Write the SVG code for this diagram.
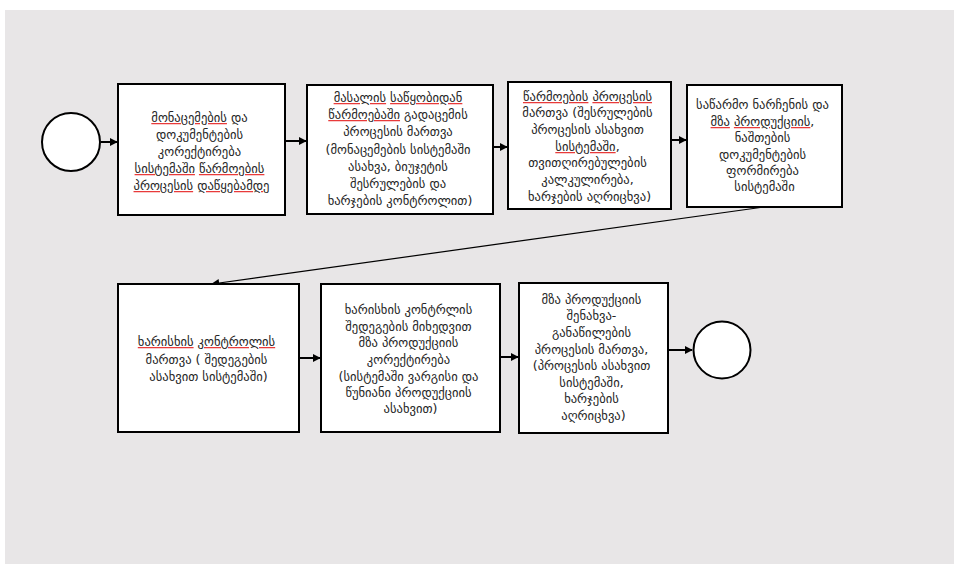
<svg xmlns="http://www.w3.org/2000/svg" width="954" height="564" viewBox="0 0 954 564">
  <defs>
    <marker id="arrow" viewBox="0 0 10 10" refX="9" refY="5" markerWidth="8" markerHeight="8" markerUnits="userSpaceOnUse" orient="auto">
      <path d="M0,0 L10,5 L0,10 z" fill="#000"/>
    </marker>
  </defs>
  <style>
    .box { fill: #fff; stroke: #000; stroke-width: 2; }
    .ev { fill: #fff; stroke: #000; stroke-width: 2; }
    .lbl { font-family: "DejaVu Sans", sans-serif; font-size: 12.6px; fill: #262626; text-anchor: middle; }
    /* spell-check style underline: the decoration takes the outer fill, the glyphs the inner one */
    .sp { fill: #e83a3a; text-decoration-line: underline; text-decoration-style: wavy; text-decoration-thickness: 1px; }
    .sp > tspan { fill: #262626; }
    .conn { fill: none; stroke: #000; stroke-width: 2; marker-end: url(#arrow); }
    .conn-thin { fill: none; stroke: #000; stroke-width: 1.2; marker-end: url(#arrow); }
  </style>

  <!-- canvas -->
  <rect x="5" y="10" width="949" height="554" fill="#e8e6e7"/>

  <!-- connectors -->
  <g id="connectors">
    <line class="conn" x1="101" y1="142" x2="117" y2="142"/>
    <line class="conn" x1="285" y1="141" x2="306" y2="141"/>
    <line class="conn" x1="493" y1="147" x2="507" y2="147"/>
    <line class="conn" x1="671" y1="140" x2="686" y2="140"/>
    <line class="conn-thin" x1="764" y1="207" x2="212" y2="284"/>
    <line class="conn" x1="299" y1="358" x2="320" y2="358"/>
    <line class="conn" x1="500" y1="357" x2="518" y2="357"/>
    <line class="conn" x1="668" y1="350" x2="692" y2="350"/>
  </g>

  <!-- start event -->
  <g id="start">
    <circle class="ev" cx="71" cy="142" r="29"/>
  </g>

  <!-- step 1 -->
  <g id="step1">
    <rect class="box" x="118" y="84" width="167" height="131"/>
    <text class="lbl">
      <tspan x="201.5" y="122"><tspan class="sp"><tspan>მონაცემების</tspan></tspan> და</tspan>
      <tspan x="201.5" y="139">დოკუმენტების</tspan>
      <tspan x="201.5" y="156">კორექტირება</tspan>
      <tspan x="201.5" y="173"><tspan class="sp"><tspan>სისტემაში</tspan></tspan> <tspan class="sp"><tspan>წარმოების</tspan></tspan></tspan>
      <tspan x="201.5" y="190"><tspan class="sp"><tspan>პროცესის</tspan></tspan> <tspan class="sp"><tspan>დაწყებამდე</tspan></tspan></tspan>
    </text>
  </g>

  <!-- step 2 -->
  <g id="step2">
    <rect class="box" x="307" y="85" width="186" height="129"/>
    <text class="lbl">
      <tspan x="400" y="102"><tspan class="sp"><tspan>მასალის</tspan></tspan> <tspan class="sp"><tspan>საწყობიდან</tspan></tspan></tspan>
      <tspan x="400" y="119"><tspan class="sp"><tspan>წარმოებაში</tspan></tspan> გადაცემის</tspan>
      <tspan x="400" y="136">პროცესის მართვა</tspan>
      <tspan x="400" y="154">(მონაცემების სისტემაში</tspan>
      <tspan x="400" y="171">ასახვა, ბიუჯეტის</tspan>
      <tspan x="400" y="188">შესრულების და</tspan>
      <tspan x="400" y="205">ხარჯების კონტროლით)</tspan>
    </text>
  </g>

  <!-- step 3 -->
  <g id="step3">
    <rect class="box" x="508" y="82" width="163" height="127"/>
    <text class="lbl">
      <tspan x="589.5" y="101"><tspan class="sp"><tspan>წარმოების</tspan></tspan> <tspan class="sp"><tspan>პროცესის</tspan></tspan></tspan>
      <tspan x="589.5" y="117">მართვა (შესრულების</tspan>
      <tspan x="589.5" y="134">პროცესის  ასახვით</tspan>
      <tspan x="589.5" y="151"><tspan class="sp"><tspan>სისტემაში</tspan></tspan>,</tspan>
      <tspan x="589.5" y="167">თვითღირებულების</tspan>
      <tspan x="589.5" y="184">კალკულირება,</tspan>
      <tspan x="589.5" y="201">ხარჯების აღრიცხვა)</tspan>
    </text>
  </g>

  <!-- step 4 -->
  <g id="step4">
    <rect class="box" x="687" y="85" width="155" height="122"/>
    <text class="lbl">
      <tspan x="764.5" y="109">საწარმო ნარჩენის და</tspan>
      <tspan x="764.5" y="126"><tspan class="sp"><tspan>მზა</tspan></tspan> <tspan class="sp"><tspan>პროდუქციის</tspan></tspan>,</tspan>
      <tspan x="764.5" y="142">ნაშთების</tspan>
      <tspan x="764.5" y="159">დოკუმენტების</tspan>
      <tspan x="764.5" y="175">ფორმირება</tspan>
      <tspan x="764.5" y="191">სისტემაში</tspan>
    </text>
  </g>

  <!-- step 5 -->
  <g id="step5">
    <rect class="box" x="118" y="284" width="181" height="148"/>
    <text class="lbl">
      <tspan x="208.5" y="346"><tspan class="sp"><tspan>ხარისხის</tspan></tspan> <tspan class="sp"><tspan>კონტროლის</tspan></tspan></tspan>
      <tspan x="208.5" y="364">მართვა ( შედეგების</tspan>
      <tspan x="208.5" y="381">ასახვით სისტემაში)</tspan>
    </text>
  </g>

  <!-- step 6 -->
  <g id="step6">
    <rect class="box" x="321" y="284" width="179" height="148"/>
    <text class="lbl">
      <tspan x="410.5" y="314">ხარისხის კონტრლის</tspan>
      <tspan x="410.5" y="331">შედეგების მიხედვით</tspan>
      <tspan x="410.5" y="347">მზა პროდუქციის</tspan>
      <tspan x="410.5" y="364">კორექტირება</tspan>
      <tspan x="410.5" y="381">(სისტემაში ვარგისი და</tspan>
      <tspan x="410.5" y="397">წუნიანი პროდუქციის</tspan>
      <tspan x="410.5" y="413">ასახვით)</tspan>
    </text>
  </g>

  <!-- step 7 -->
  <g id="step7">
    <rect class="box" x="519" y="283" width="149" height="150"/>
    <text class="lbl">
      <tspan x="593.5" y="304">მზა პროდუქციის</tspan>
      <tspan x="593.5" y="320">შენახვა-</tspan>
      <tspan x="593.5" y="337">განაწილების</tspan>
      <tspan x="593.5" y="354">პროცესის მართვა,</tspan>
      <tspan x="593.5" y="370">(პროცესის ასახვით</tspan>
      <tspan x="593.5" y="387">სისტემაში,</tspan>
      <tspan x="593.5" y="403">ხარჯების</tspan>
      <tspan x="593.5" y="420">აღრიცხვა)</tspan>
    </text>
  </g>

  <!-- end event -->
  <g id="end">
    <circle class="ev" cx="722" cy="350" r="28.5"/>
  </g>
</svg>
